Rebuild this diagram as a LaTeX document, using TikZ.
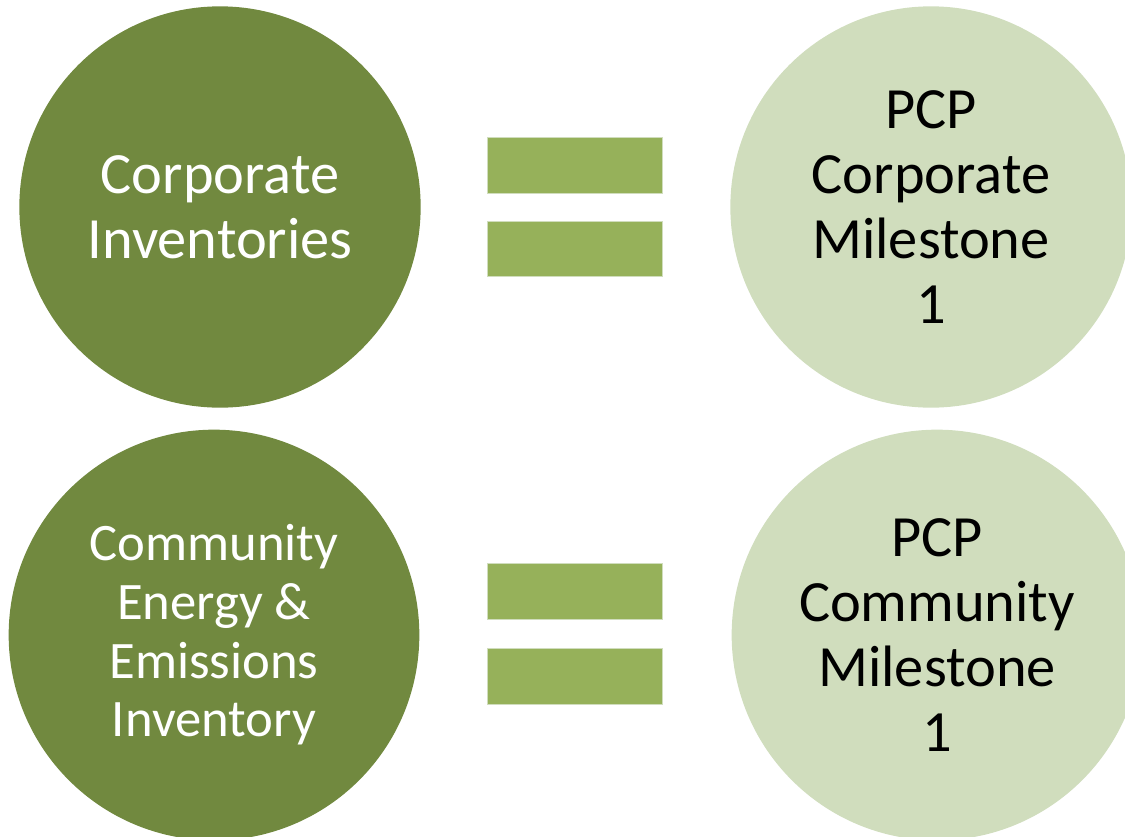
\documentclass[tikz,border=0pt]{standalone}
\usepackage{fontspec}
\setmainfont{Carlito}
\usetikzlibrary{positioning}

\definecolor{darkolive}{HTML}{71893F}
\definecolor{paleolive}{HTML}{D0DDBD}
\definecolor{barolive}{HTML}{96B15A}

\tikzset{
    inventory/.style={circle, fill=darkolive, text=white, align=center, inner sep=0pt,
        font=\fontsize{43.8}{48.75}\selectfont},
    milestone/.style={circle, fill=paleolive, text=black, align=center, inner sep=0pt,
        font=\fontsize{43.8}{48.75}\selectfont},
    eqbar/.style={rectangle, fill=barolive, draw=paleolive, line width=0.6pt,
        minimum width=131pt, minimum height=41.5pt, inner sep=0pt},
}

\begin{document}
\begin{tikzpicture}[x=0.75pt, y=-0.75pt]
\useasboundingbox (0,0) rectangle (1125,836);

% top row
\node [inventory, minimum size=301pt] (corpinv) at (220,207)
{Corporate\\Inventories};
\node [milestone, minimum size=301pt] (corpmile) at (931,207)
{PCP\\Corporate\\Milestone\\1};
\node [eqbar] (corpbarA) at (575,165.5) {};
\node [eqbar] (corpbarB) at (575,249) {};

% bottom row
\node [inventory, minimum size=308pt, font=\fontsize{39.5}{44}\selectfont] (comminv) at (214,635)
{Community\\Energy \&\\Emissions\\Inventory};
\node [milestone, minimum size=308pt] (commmile) at (937,635)
{PCP\\Community\\Milestone\\1};
\node [eqbar, minimum height=42.5pt] (commbarA) at (575,591.5) {};
\node [eqbar, minimum height=42.5pt] (commbarB) at (575,676.5) {};
\end{tikzpicture}
\end{document}
